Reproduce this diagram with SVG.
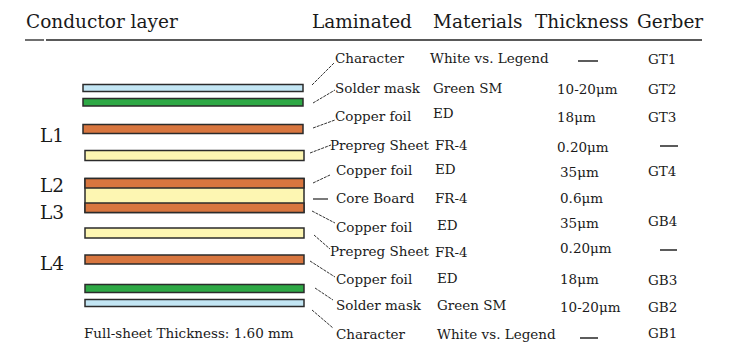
<svg xmlns="http://www.w3.org/2000/svg" width="730" height="360" viewBox="0 0 730 360">
<style>
text{font-family:"DejaVu Serif","Liberation Serif",serif;fill:#1a1a1a}
.h{font-size:18.5px}
.t{font-size:13.5px}
.lay{stroke:#2b2b2b;stroke-width:1.5}
.blue{fill:#c3e6f4}.green{fill:#2ea845}.cu{fill:#d8763f}.pp{fill:#fdf6b2}
.ld{stroke:#333;stroke-width:1;fill:none;stroke-dasharray:3 1}
.solid{stroke:#222;stroke-width:1.2}
.dash{stroke:#333;stroke-width:1.6}
.rule{stroke:#222;stroke-width:1.3}
</style>
<rect width="730" height="360" fill="#fff"/>
<g id="header">
<text class="h" x="26" y="28">Conductor layer</text>
<text class="h" x="312" y="28">Laminated</text>
<text class="h" x="433" y="28">Materials</text>
<text class="h" x="535" y="28">Thickness</text>
<text class="h" x="637" y="28">Gerber</text>
<line class="rule" x1="25" y1="40" x2="44" y2="40"/>
<line class="rule" x1="46" y1="40" x2="702" y2="40"/>
</g>
<g id="conductor-labels">
<text class="h" x="40" y="142">L1</text>
<text class="h" x="40" y="192">L2</text>
<text class="h" x="40" y="219">L3</text>
<text class="h" x="40" y="270">L4</text>
<text class="t" x="84" y="338">Full-sheet Thickness: 1.60 mm</text>
</g>
<g id="layer-character-top"><rect class="lay blue" x="83" y="84.5" width="220" height="7"/></g>
<g id="layer-soldermask-top"><rect class="lay green" x="83" y="98.5" width="220" height="7.5"/></g>
<g id="layer-copper-top"><rect class="lay cu" x="83" y="124.5" width="220" height="9"/></g>
<g id="layer-prepreg-top"><rect class="lay pp" x="85" y="150.5" width="219" height="10"/></g>
<g id="layer-core">
<rect class="lay pp" x="85" y="178.5" width="219" height="34"/>
<rect class="lay cu" x="85" y="178.5" width="219" height="9.5"/>
<rect class="lay cu" x="85" y="203" width="219" height="9.5"/>
</g>
<g id="layer-prepreg-bottom"><rect class="lay pp" x="85" y="228" width="219" height="10"/></g>
<g id="layer-copper-bottom"><rect class="lay cu" x="85" y="255" width="219" height="9"/></g>
<g id="layer-soldermask-bottom"><rect class="lay green" x="85" y="284.5" width="219" height="8"/></g>
<g id="layer-character-bottom"><rect class="lay blue" x="85" y="299.5" width="219" height="7"/></g>
<g id="connectors">
<line class="ld" x1="312" y1="85" x2="334" y2="63"/>
<line class="ld" x1="313" y1="103" x2="335" y2="90"/>
<line class="ld" x1="313" y1="128" x2="335" y2="120"/>
<line class="ld" x1="310" y1="153" x2="331" y2="145"/>
<line class="ld" x1="313" y1="183" x2="330" y2="175"/>
<line class="solid" x1="313" y1="199" x2="328" y2="199"/>
<line class="ld" x1="312" y1="211" x2="335" y2="223"/>
<line class="ld" x1="314" y1="235" x2="330" y2="249"/>
<line class="ld" x1="310" y1="261" x2="335" y2="277"/>
<line class="ld" x1="315" y1="288" x2="333" y2="300"/>
<line class="ld" x1="312" y1="310" x2="333" y2="328"/>
</g>
<g id="table" class="t">
<text class="t" x="335" y="63">Character</text>
<text class="t" x="430" y="63">White vs. Legend</text>
<line class="dash" x1="578" y1="61" x2="598" y2="61"/>
<text class="t" x="648" y="64">GT1</text>

<text class="t" x="335" y="93">Solder mask</text>
<text class="t" x="433" y="93">Green SM</text>
<text class="t" x="557" y="94">10-20μm</text>
<text class="t" x="648" y="94">GT2</text>

<text class="t" x="335" y="121">Copper foil</text>
<text class="t" x="433" y="118">ED</text>
<text class="t" x="557" y="122">18μm</text>
<text class="t" x="648" y="122">GT3</text>

<text class="t" x="330" y="150">Prepreg Sheet</text>
<text class="t" x="435" y="150">FR-4</text>
<text class="t" x="557" y="152">0.20μm</text>
<line class="dash" x1="660" y1="146" x2="678" y2="146"/>

<text class="t" x="336" y="175">Copper foil</text>
<text class="t" x="435" y="174">ED</text>
<text class="t" x="560" y="177">35μm</text>
<text class="t" x="648" y="176">GT4</text>

<text class="t" x="336" y="203">Core Board</text>
<text class="t" x="435" y="203">FR-4</text>
<text class="t" x="560" y="203">0.6μm</text>

<text class="t" x="336" y="232">Copper foil</text>
<text class="t" x="437" y="230">ED</text>
<text class="t" x="560" y="228">35μm</text>
<text class="t" x="648" y="226">GB4</text>

<text class="t" x="330" y="256">Prepreg Sheet</text>
<text class="t" x="435" y="257">FR-4</text>
<text class="t" x="560" y="253">0.20μm</text>
<line class="dash" x1="660" y1="250" x2="677" y2="250"/>

<text class="t" x="336" y="284">Copper foil</text>
<text class="t" x="437" y="283">ED</text>
<text class="t" x="560" y="284">18μm</text>
<text class="t" x="648" y="285">GB3</text>

<text class="t" x="336" y="310">Solder mask</text>
<text class="t" x="437" y="310">Green SM</text>
<text class="t" x="560" y="312">10-20μm</text>
<text class="t" x="648" y="312">GB2</text>

<text class="t" x="336" y="339">Character</text>
<text class="t" x="437" y="339">White vs. Legend</text>
<line class="dash" x1="580" y1="338" x2="598" y2="338"/>
<text class="t" x="648" y="338">GB1</text>
</g>
</svg>
